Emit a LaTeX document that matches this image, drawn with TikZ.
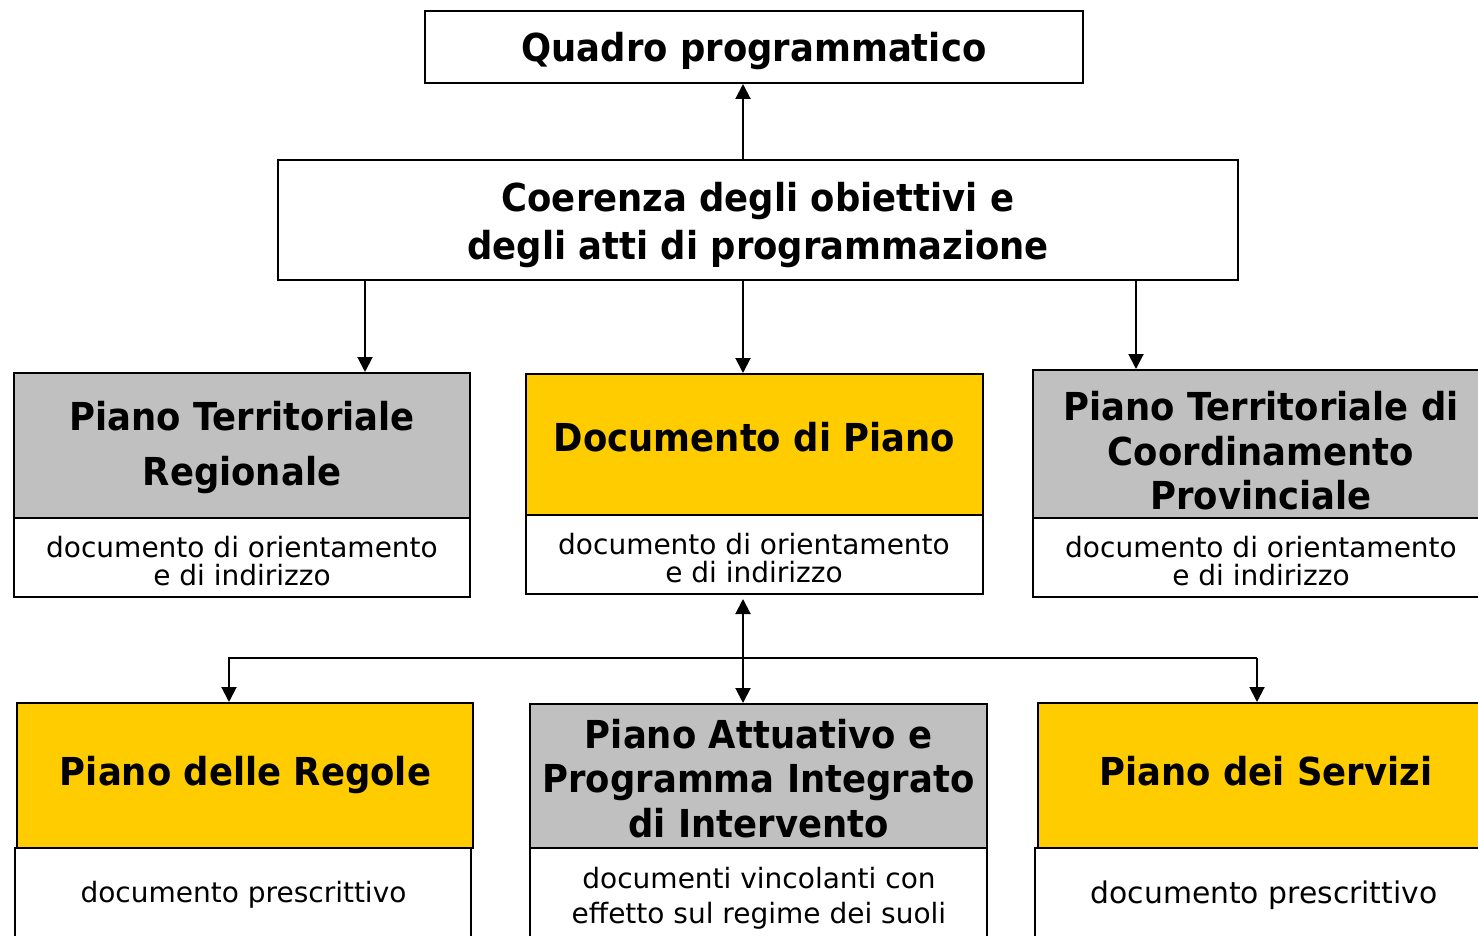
\documentclass[tikz,border=0pt]{standalone}
\usepackage{fontspec}
\setmainfont{DejaVu Sans}
\newfontfamily\titlef{DejaVu Sans}[FakeStretch=0.92]
\usetikzlibrary{arrows.meta,fit}
\definecolor{pgray}{HTML}{C0C0C0}
\definecolor{pyellow}{HTML}{FFCC00}
\begin{document}
\begin{tikzpicture}[x=0.5pt,y=-0.5pt,
  box/.style={draw=black,line width=1pt,inner sep=0pt},
  ttl/.style={anchor=base,inner sep=0pt,font=\titlef\bfseries\fontsize{19.25}{23}\selectfont},
  bdy/.style={anchor=base,inner sep=0pt,font=\fontsize{14}{17}\selectfont},
  arr/.style={line width=1pt,-{Triangle[width=7.5pt,length=7.5pt]}},
  darr/.style={line width=1pt,{Triangle[width=7.5pt,length=7.5pt]}-{Triangle[width=7.5pt,length=7.5pt]}},
  ln/.style={line width=1pt}]
\useasboundingbox (0,0) rectangle (1478,936);
\clip (0,0) rectangle (1478,936);
\fill[white] (0,0) rectangle (1478,936);

% top boxes
\node[box,fill=white,fit={(425,11)(1083,83)}] (quadro) {};
\node[ttl] (quadroT) at (754,62) {Quadro programmatico};
\node[box,fill=white,fit={(278,160)(1238,280)}] (coer) {};
\node[ttl] (coer1) at (758,212) {Coerenza degli obiettivi e};
\node[ttl] (coer2) at (758,260) {degli atti di programmazione};

% row 2
\node[box,fill=pgray,fit={(14,373)(470,518)}] (ptrT) {};
\node[box,fill=white,fit={(14,518)(470,597)}] (ptrB) {};
\node[ttl] (ptr1) at (242,430) {Piano Territoriale};
\node[ttl] (ptr2) at (242,485) {Regionale};
\node[bdy] (ptrb1) at (242,557) {documento di orientamento};
\node[bdy] (ptrb2) at (242,585) {e di indirizzo};

\node[box,fill=pyellow,fit={(526,374)(983,515)}] (dpT) {};
\node[box,fill=white,fit={(526,515)(983,594)}] (dpB) {};
\node[ttl] (dp1) at (754.5,451) {Documento di Piano};
\node[bdy] (dpb1) at (754,554) {documento di orientamento};
\node[bdy] (dpb2) at (754,582) {e di indirizzo};

\node[box,fill=pgray,fit={(1033,370)(1490,518)}] (pcT) {};
\node[box,fill=white,fit={(1033,518)(1490,597)}] (pcB) {};
\node[ttl] (pc1) at (1261,420) {Piano Territoriale di};
\node[ttl] (pc2) at (1261,465) {Coordinamento};
\node[ttl] (pc3) at (1261,509) {Provinciale};
\node[bdy] (pcb1) at (1261,557) {documento di orientamento};
\node[bdy] (pcb2) at (1261,585) {e di indirizzo};

% row 3
\node[box,fill=pyellow,fit={(17,703)(473,848)}] (prT) {};
\node[box,fill=white,fit={(15,848)(471,960)}] (prB) {};
\node[ttl] (pr1) at (245.5,785) {Piano delle Regole};
\node[bdy] (prb1) at (243.5,902) {documento prescrittivo};

\node[box,fill=pgray,fit={(530,704)(987,848)}] (paT) {};
\node[box,fill=white,fit={(530,848)(987,960)}] (paB) {};
\node[ttl] (pa1) at (758.5,748) {Piano Attuativo e};
\node[ttl] (pa2) at (758.5,792) {Programma Integrato};
\node[ttl] (pa3) at (758.5,837) {di Intervento};
\node[bdy] (pab1) at (759,888) {documenti vincolanti con};
\node[bdy] (pab2) at (759,923) {effetto sul regime dei suoli};

\node[box,fill=pyellow,fit={(1038,703)(1494,848)}] (psT) {};
\node[box,fill=white,fit={(1035,848)(1491,960)}] (psB) {};
\node[ttl] (ps1) at (1266,785) {Piano dei Servizi};
\node[bdy,font=\fontsize{14.9}{18}\selectfont] (psb1) at (1264,903) {documento prescrittivo};

% connectors
\coordinate (cA) at (743,0);
\coordinate (cL) at (365,0);
\coordinate (cR) at (1136,0);
\coordinate (hl) at (229,658);
\coordinate (hr) at (1257,658);
\draw[arr] (coer.north -| cA) -- (quadro.south -| cA);
\draw[arr] (coer.south -| cL) -- (ptrT.north -| cL);
\draw[arr] (coer.south -| cA) -- (dpT.north -| cA);
\draw[arr] (coer.south -| cR) -- (pcT.north -| cR);
\draw[darr,shorten <=2pt] (dpB.south -| cA) -- (paT.north -| cA);
\draw[arr] (hr) -- (hl) -- (prT.north -| hl);
\draw[arr] (hr) -- (psT.north -| hr);
\end{tikzpicture}
\end{document}
